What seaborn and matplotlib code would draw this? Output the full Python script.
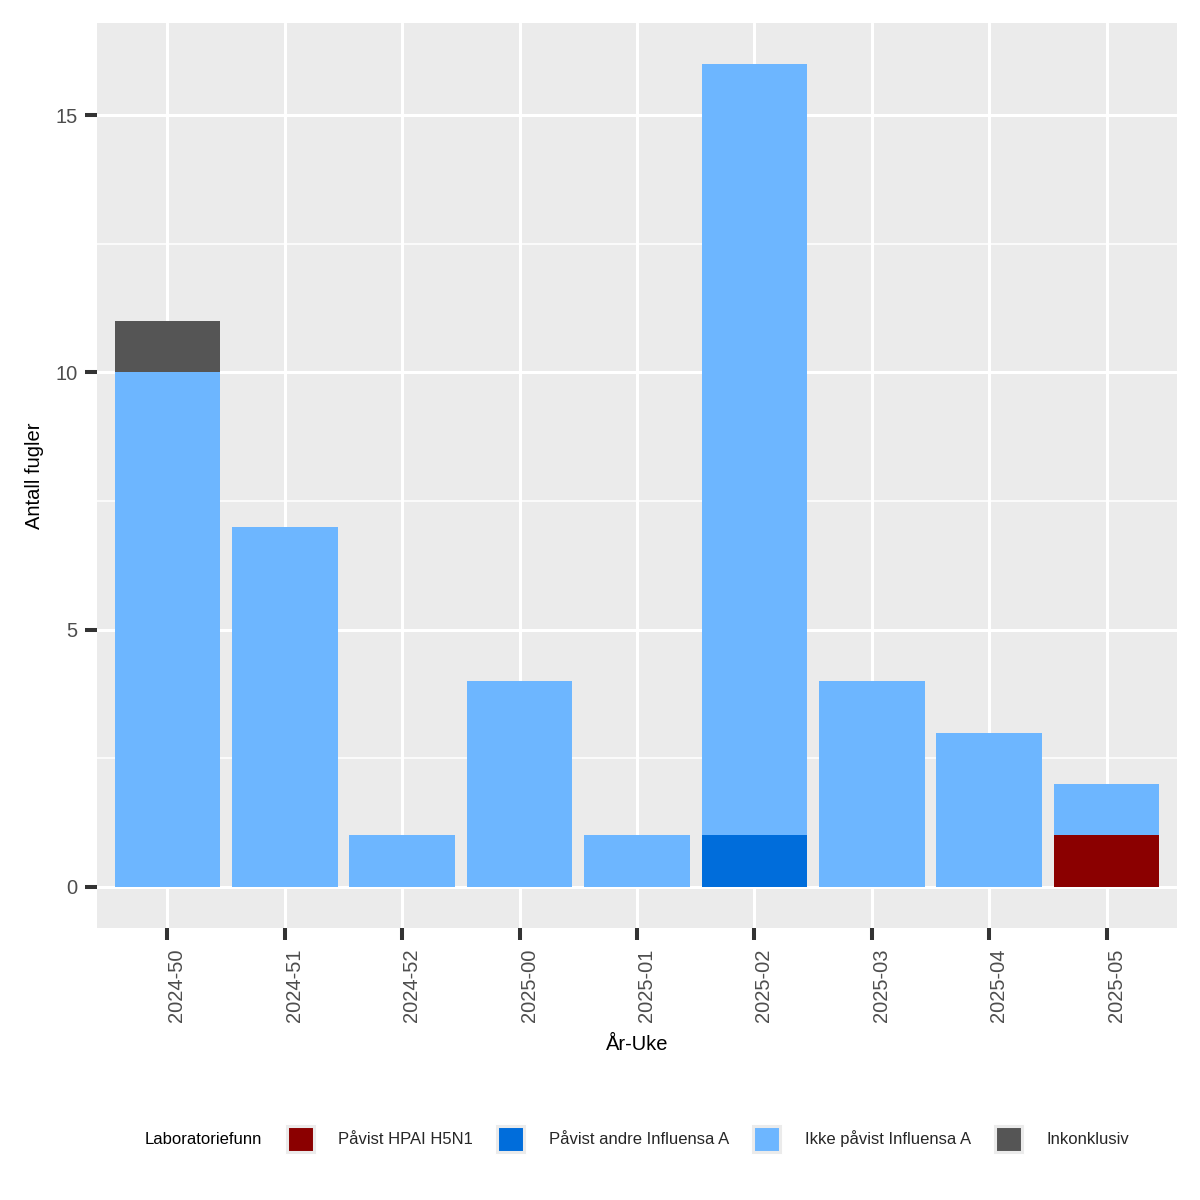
import matplotlib
matplotlib.use("Agg")
import matplotlib.pyplot as plt
import seaborn as sns
import pandas as pd
import numpy as np
from matplotlib.patches import Patch

weeks = ["2024-50", "2024-51", "2024-52", "2025-00", "2025-01",
         "2025-02", "2025-03", "2025-04", "2025-05"]
hpai = [0, 0, 0, 0, 0, 0, 0, 0, 1]
andre = [0, 0, 0, 0, 0, 1, 0, 0, 0]
ikke = [10, 7, 1, 4, 1, 15, 4, 3, 1]
inkonkl = [1, 0, 0, 0, 0, 0, 0, 0, 0]

labels = ["Påvist HPAI H5N1", "Påvist andre Influensa A",
          "Ikke påvist Influensa A", "Inkonklusiv"]
colors = ["#8B0000", "#006DDB", "#6DB6FF", "#555555"]

sns.set_theme(style="darkgrid")
plt.rcParams["font.family"] = ["Liberation Sans", "DejaVu Sans"]

df = pd.DataFrame({"week": weeks, "hpai": hpai, "andre": andre,
                   "ikke": ikke, "inkonkl": inkonkl})
df["c1"] = df["hpai"]
df["c2"] = df["c1"] + df["andre"]
df["c3"] = df["c2"] + df["ikke"]
df["c4"] = df["c3"] + df["inkonkl"]

fig = plt.figure(figsize=(12, 12), dpi=100)
L, R, T, B = 97, 1177, 22.7, 928
ax = fig.add_axes([L/1200, 1 - B/1200, (R-L)/1200, (B-T)/1200])
ax.set_facecolor("#EBEBEB")

for col, c in zip(["c4", "c3", "c2", "c1"], colors[::-1]):
    sns.barplot(data=df, x="week", y=col, color=c, width=0.9,
                saturation=1, ax=ax, zorder=3, linewidth=0, edgecolor="none")

ax.set_xlim(-0.6, 8.6)
ax.set_ylim(-0.8, 16.8)
ax.set_yticks([0, 5, 10, 15])
ax.set_yticks([2.5, 7.5, 12.5], minor=True)
ax.grid(which="major", color="white", linewidth=2.2, zorder=0)
ax.grid(which="minor", axis="y", color="white", linewidth=1.1, zorder=0)
ax.set_axisbelow(True)
for s in ax.spines.values():
    s.set_visible(False)

ax.tick_params(axis="both", which="major", length=8.6, width=2.9,
               color="#333333", labelcolor="#4D4D4D", labelsize=14.5)
ax.tick_params(axis="y", which="minor", length=0)
ax.tick_params(axis="x", which="major", bottom=True, labelrotation=90, pad=6.5)
ax.tick_params(axis="y", which="major", left=True, pad=5.5)
for t in ax.get_xticklabels():
    t.set_va("top")
    t.set_ha("left")

ax.set_xlabel("År-Uke", fontsize=14.5, color="black", labelpad=9)
ax.set_ylabel("Antall fugler", fontsize=14.5, color="black", labelpad=8)

fig.text(145/1200, 1 - 1139/1200, "Laboratoriefunn", fontsize=12,
         va="center", ha="left", color="black")
handles = [Patch(facecolor=c, edgecolor="#EBEBEB", linewidth=2.2) for c in colors]
leg = fig.legend(handles, labels, loc="center left",
                 bbox_to_anchor=(286.5/1200, 1 - 1139/1200), ncol=4,
                 frameon=False, fontsize=12, handlelength=1.62,
                 handleheight=2.11, handletextpad=1.47, columnspacing=1.46,
                 borderaxespad=0, borderpad=0)

fig.savefig("out.png", dpi=100, facecolor="white")
